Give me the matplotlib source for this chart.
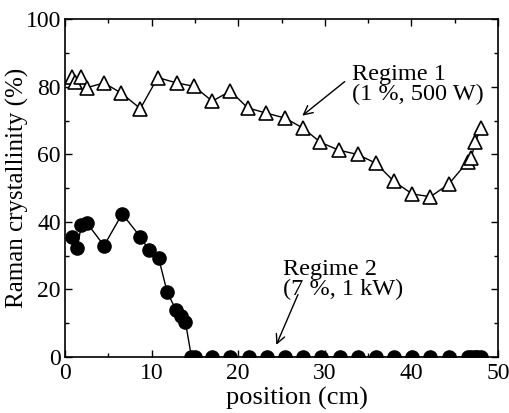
import matplotlib
matplotlib.use("Agg")
import matplotlib.pyplot as plt
from matplotlib.ticker import MultipleLocator

# regime 1 (1 %, 500 W) - open triangles
pos1 = [0.8, 1.2, 1.8, 2.5, 4.5, 6.5, 8.7, 10.7, 12.9, 14.9, 17.0, 19.1, 21.1,
        23.2, 25.4, 27.5, 29.5, 31.6, 33.8, 35.9, 38.0, 40.1, 42.2, 44.3, 46.5,
        46.9, 47.4, 48.0]
xc1 = [83.0, 81.5, 83.0, 79.8, 81.2, 78.2, 73.6, 82.8, 81.2, 80.2, 75.8, 78.8,
       73.8, 72.3, 70.8, 67.8, 63.6, 61.3, 60.0, 57.4, 52.0, 48.3, 47.5, 51.2,
       57.9, 59.0, 63.8, 67.9]

# regime 2 (7 %, 1 kW) - filled circles
pos2 = [0.85, 1.4, 1.9, 2.5, 4.5, 6.6, 8.7, 9.7, 10.8, 11.8, 12.8, 13.4, 13.9,
        14.6, 15.0, 17.0, 19.1, 21.2, 23.3, 25.4, 27.5, 29.6, 31.7, 33.8, 35.9,
        38.0, 40.1, 42.2, 44.3, 46.5, 46.9, 47.3, 47.6, 48.0]
xc2 = [35.7, 32.2, 39.2, 39.8, 33.0, 42.4, 35.6, 31.6, 29.4, 19.2, 14.0, 12.0,
       10.4, 0, 0, 0, 0, 0, 0, 0, 0, 0, 0, 0, 0, 0, 0, 0, 0, 0, 0, 0, 0, 0]

plt.rcParams['font.family'] = ['Liberation Serif', 'DejaVu Serif']
plt.rcParams['font.size'] = 16

fig = plt.figure(figsize=(5.1, 4.13), dpi=100)
ax = fig.add_axes([0.1275, 0.1356, 0.849, 0.8172])

ax.plot(pos1, xc1, color='black', lw=1.0, marker='^', ms=10,
        mfc='white', mec='black', mew=1.2)
ax.plot(pos2, xc2, color='black', lw=1.0, marker='o', ms=9.5,
        mfc='black', mec='black')

ax.set_xlim(0, 50)
ax.set_ylim(0, 100)
ax.xaxis.set_major_locator(MultipleLocator(10))
ax.xaxis.set_minor_locator(MultipleLocator(5))
ax.yaxis.set_major_locator(MultipleLocator(20))
ax.yaxis.set_minor_locator(MultipleLocator(10))
ax.tick_params(which='both', direction='in', top=True, right=True,
               labelsize=17, width=1.0)
ax.tick_params(axis='x', pad=4)
ax.tick_params(axis='y', pad=3)
ax.tick_params(which='major', length=5)
ax.tick_params(which='minor', length=3)
for s in ax.spines.values():
    s.set_linewidth(1.2)

ax.set_xlabel('position (cm)', fontsize=19)
ax.set_ylabel('Raman crystallinity (%)', fontsize=18)
ax.xaxis.set_label_coords(0.535, -0.09)
ax.yaxis.set_label_coords(-0.083, 0.5)

# text labels + arrows
ax.text(33.1, 74.7, 'Regime 1\n(1 %, 500 W)', fontsize=17.5, ha='left',
        va='bottom', linespacing=0.95)
ax.annotate('', xy=(27.4, 71.5), xytext=(32.3, 81.6),
            arrowprops=dict(arrowstyle='->', color='black', lw=1.0,
                            shrinkA=0, shrinkB=0))
ax.text(25.2, 16.9, 'Regime 2\n(7 %, 1 kW)', fontsize=17.5, ha='left',
        va='bottom', linespacing=0.95)
ax.annotate('', xy=(24.4, 3.6), xytext=(26.9, 18.5),
            arrowprops=dict(arrowstyle='->', color='black', lw=1.0,
                            shrinkA=0, shrinkB=0))

fig.savefig('out.png', dpi=100)
